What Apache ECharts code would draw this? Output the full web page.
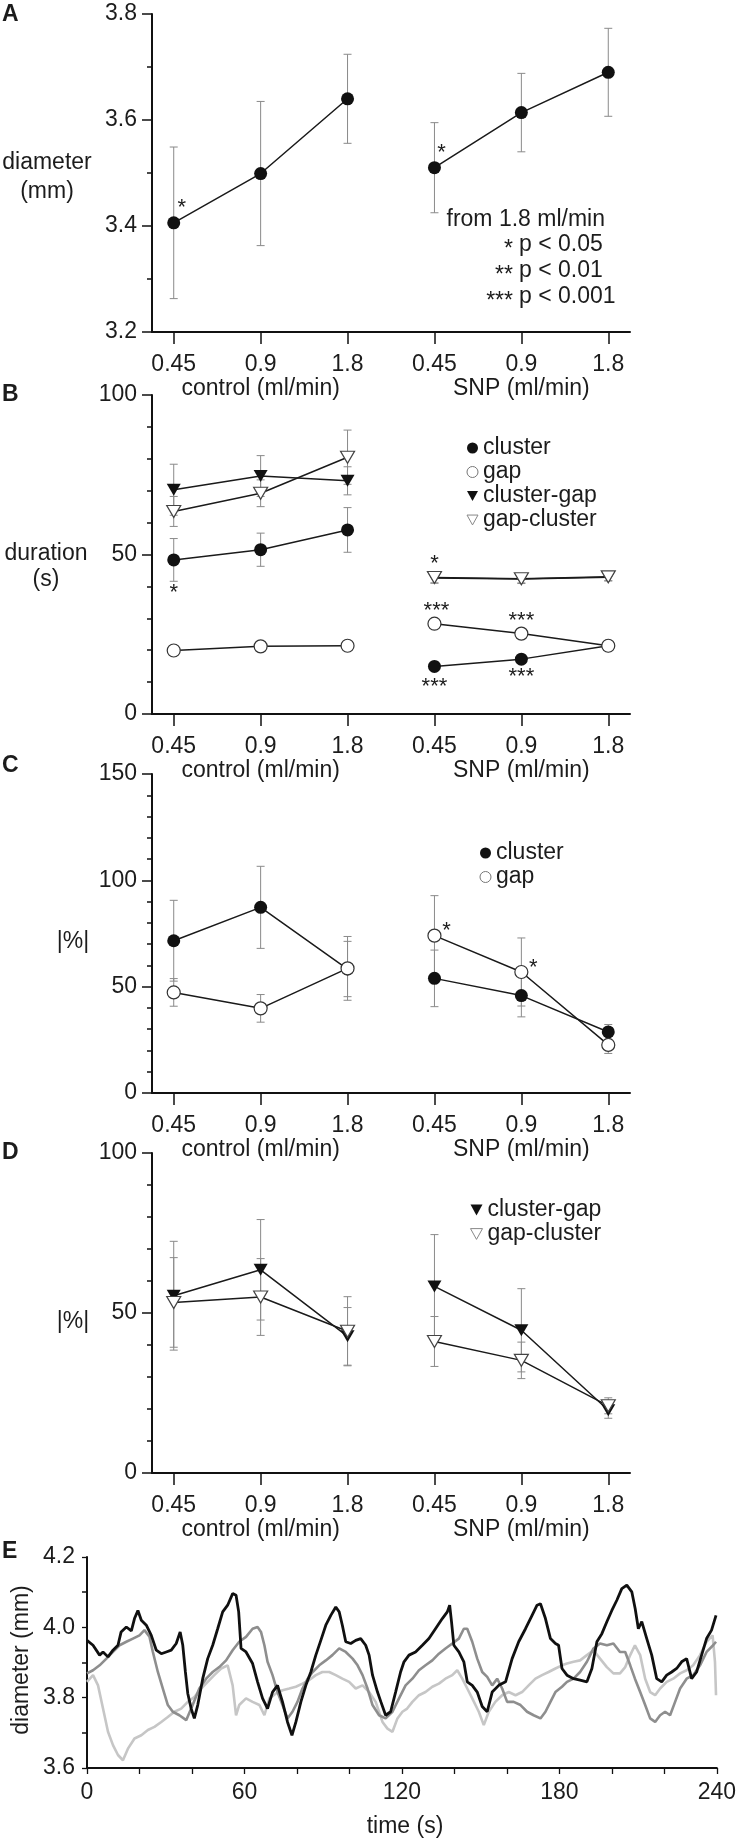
<!DOCTYPE html>
<html><head><meta charset="utf-8">
<script src="https://cdn.jsdelivr.net/npm/echarts@6/dist/echarts.min.js"></script>
<style>html,body{margin:0;padding:0;background:#fff}#c{width:739px;height:1841px}</style>
</head><body><div id="c"></div><script>
const FONT = '"Liberation Sans", Arial, Helvetica, sans-serif';
const TXT = '#1c1c1c';

// ---- shared category axis ----
const flowLabels = ['0.45', '0.9', '1.8', '0.45', '0.9', '1.8'];
const flowPos = [0, 1, 2, 3, 4, 5];
const groupLabels = ['control (ml/min)', 'SNP (ml/min)'];
const groupCenters = [1, 4];

// ---- Panel A: diameter (mm) ----
const aTicks = [3.2, 3.4, 3.6, 3.8];
const aDiameter = [3.406, 3.499, 3.640, 3.510, 3.614, 3.690];
const aDiameterErr = [0.143, 0.136, 0.084, 0.085, 0.074, 0.083];
const aStars = [[0, 3.406, '*'], [3, 3.510, '*']];

// ---- Panel B: duration (s) ----
const bTicks = [0, 50, 100];
const bCluster = [48.3, 51.5, 57.7, 14.9, 17.2, 21.4];
const bClusterErr = [6.7, 5.2, 7.0, 0.6, 0.6, 0.8];
const bGap = [19.9, 21.2, 21.4, 28.3, 25.2, 21.4];
const bGapErr = [1.0, 1.2, 1.5, 1.5, 1.0, 1.0];
const bClusterGap = [70.3, 74.6, 73.1, 42.6, 42.3, 42.9];
const bClusterGapErr = [8.0, 6.4, 4.4, 1.5, 1.2, 1.2];
const bGapCluster = [63.5, 69.2, 80.5, 42.8, 42.4, 43.0];
const bGapClusterErr = [4.7, 4.2, 8.5, 1.8, 1.5, 1.2];
const bStars = [[0, 48.3, '*'], [3, 42.6, '*'], [3, 28.3, '***'], [4, 25.2, '***'], [3, 14.9, '***'], [4, 17.2, '***']];

// ---- Panel C: |%| cluster / gap ----
const cTicks = [0, 50, 100, 150];
const cCluster = [71.6, 87.3, 58.3, 53.9, 45.8, 28.7];
const cClusterErr = [19.0, 19.3, 13.0, 13.3, 10.0, 3.5];
const cGap = [47.3, 39.8, 58.6, 74.0, 56.9, 22.6];
const cGapErr = [6.5, 6.5, 15.0, 18.8, 16.0, 4.0];
const cStars = [[3, 74.0, '*'], [4, 56.9, '*']];

// ---- Panel D: |%| transitions ----
const dTicks = [0, 50, 100];
const dClusterGap = [55.4, 63.5, 42.7, 58.3, 44.6, 19.6];
const dClusterGapErr = [17.0, 15.7, 9.0, 16.2, 13.0, 2.5];
const dGapCluster = [53.3, 55.0, 44.3, 41.1, 35.2, 21.0];
const dGapClusterErr = [14.0, 12.0, 10.8, 7.8, 5.7, 2.5];

// ---- Panel E: diameter traces (time s, diameter mm) ----
const eXTicks = [0, 60, 120, 180, 240];
const eYTicks = [3.6, 3.8, 4.0, 4.2];
const eBlack = [[0,3.963],[2.3,3.949],[4.8,3.921],[6.1,3.93],[8,3.916],[9.9,3.935],[11.8,3.949],[13,3.987],[15,4.001],[16.9,3.99],[18.1,4.025],[19.4,4.048],[20.7,4.02],[22.6,4.006],[24.5,3.977],[26.4,3.935],[28.3,3.925],[30.2,3.93],[32.1,3.935],[34,3.954],[35.5,3.987],[36.5,3.949],[37.5,3.873],[38.4,3.812],[39.7,3.769],[40.9,3.741],[42.2,3.779],[44.1,3.854],[46,3.911],[47.9,3.949],[49.8,3.996],[51.7,4.044],[53.6,4.063],[55.5,4.096],[56.8,4.091],[57.8,4.044],[58.7,3.94],[60.6,3.93],[63.1,3.897],[65,3.845],[66.9,3.798],[68.8,3.769],[70.7,3.816],[72.6,3.835],[74.5,3.788],[76.4,3.731],[78.1,3.693],[79.6,3.731],[81.5,3.788],[83.4,3.835],[85.3,3.873],[87.2,3.921],[89.1,3.963],[91,4.006],[92.9,4.034],[94.8,4.058],[96.1,4.044],[97.3,4.006],[98.6,3.959],[100.5,3.954],[102.4,3.963],[104.3,3.968],[106.2,3.949],[107.5,3.921],[108.8,3.864],[110.7,3.816],[112,3.788],[113.8,3.75],[115.7,3.76],[117.6,3.816],[119.5,3.873],[120.8,3.902],[122.7,3.921],[125.2,3.93],[127.8,3.949],[130.3,3.968],[132.8,3.996],[135.4,4.025],[137.3,4.044],[138.2,4.063],[138.9,4.016],[139.8,3.949],[141.7,3.93],[143.6,3.902],[144.9,3.845],[146.8,3.835],[148.7,3.816],[150.6,3.775],[152.5,3.76],[154.4,3.816],[156.9,3.835],[159.5,3.845],[162,3.911],[164.5,3.959],[167.1,3.996],[169.6,4.034],[171.5,4.063],[172.8,4.067],[174.7,4.025],[176.6,3.968],[178.5,3.954],[179.7,3.949],[181,3.883],[182.9,3.864],[185.4,3.854],[187.9,3.85],[190.5,3.845],[192.4,3.883],[194.3,3.959],[196.2,3.982],[198.1,4.016],[200,4.048],[201.9,4.077],[203.8,4.11],[205.7,4.12],[207.6,4.101],[208.9,4.053],[210.1,3.996],[211.4,4.016],[213.3,3.968],[215.2,3.921],[217.1,3.854],[219,3.845],[220.9,3.864],[222.8,3.873],[224.7,3.883],[226.6,3.902],[228.5,3.911],[230.4,3.854],[232.3,3.873],[234.2,3.921],[236.1,3.968],[238,3.992],[239.7,4.034]];
const eGray = [[0,3.869],[2.3,3.878],[4.8,3.892],[7.4,3.911],[9.9,3.93],[12.4,3.949],[15,3.959],[17.5,3.968],[20,3.977],[21.9,3.992],[23.8,3.973],[25.1,3.93],[27,3.873],[28.9,3.826],[30.8,3.779],[32.7,3.76],[35.2,3.75],[37.8,3.736],[40.3,3.78],[42.8,3.826],[45.4,3.854],[47.9,3.873],[50.4,3.887],[53,3.906],[55.5,3.935],[58,3.959],[60.6,3.973],[63.1,3.996],[65,4.001],[66.3,3.987],[67.6,3.949],[68.8,3.902],[70.7,3.864],[72.6,3.816],[74.5,3.779],[76.4,3.741],[78.3,3.76],[80.2,3.788],[82.1,3.826],[84.1,3.854],[86,3.873],[88.5,3.892],[91,3.906],[93.5,3.921],[96.1,3.94],[98.6,3.93],[101.2,3.911],[103.1,3.892],[105,3.864],[106.9,3.826],[108.8,3.779],[111.3,3.75],[113.8,3.741],[116.4,3.76],[118.9,3.798],[121.4,3.835],[124,3.854],[126.5,3.878],[129,3.892],[131.6,3.906],[134.1,3.925],[136.6,3.94],[139.2,3.954],[141.7,3.968],[143.6,3.996],[144.9,3.996],[146.8,3.959],[148.7,3.911],[150.6,3.873],[152.5,3.859],[154.4,3.835],[156.3,3.854],[158.2,3.826],[160.1,3.788],[162.6,3.788],[165.2,3.779],[167.7,3.76],[170.2,3.75],[172.8,3.741],[174.7,3.76],[176.6,3.788],[178.5,3.816],[181,3.831],[182.9,3.845],[185.4,3.854],[187.9,3.873],[190.5,3.902],[193,3.94],[195.5,3.954],[198.1,3.949],[200.6,3.954],[203.1,3.93],[205.1,3.93],[207,3.892],[208.8,3.854],[210.8,3.816],[212.7,3.779],[214.6,3.741],[216.5,3.731],[218.4,3.75],[220.3,3.76],[222.2,3.75],[224.1,3.788],[226,3.826],[228.5,3.854],[231,3.864],[233.6,3.892],[236.1,3.93],[238.6,3.949],[239.7,3.959]];
const eLight = [[0,3.845],[2.3,3.864],[4.2,3.835],[6.1,3.769],[8,3.703],[9.9,3.665],[11.8,3.637],[13.7,3.622],[15.6,3.655],[18.1,3.684],[20.7,3.693],[23.2,3.708],[25.7,3.717],[28.3,3.731],[30.8,3.745],[33.3,3.76],[35.9,3.769],[38.4,3.788],[40.9,3.802],[43.5,3.826],[46,3.845],[48.5,3.864],[51.1,3.883],[53.6,3.892],[55.5,3.835],[56.8,3.75],[58,3.779],[60.6,3.798],[63.1,3.788],[65.7,3.779],[67.6,3.75],[69.5,3.798],[72,3.812],[74.5,3.821],[77.1,3.826],[79.6,3.831],[82.1,3.84],[84.7,3.85],[87.2,3.864],[89.7,3.873],[92.3,3.873],[94.8,3.864],[97.3,3.854],[99.9,3.845],[102.4,3.826],[105,3.835],[107.5,3.816],[110,3.788],[112.6,3.731],[114.5,3.712],[116.4,3.703],[118.3,3.741],[120.2,3.76],[122,3.769],[124,3.788],[126.5,3.807],[129,3.816],[131.6,3.831],[134.1,3.84],[136.6,3.854],[139.2,3.864],[141.1,3.878],[143,3.854],[144.9,3.826],[146.8,3.798],[149.3,3.76],[151.2,3.722],[153.1,3.76],[155.6,3.788],[158.2,3.807],[160.7,3.816],[163.3,3.807],[165.8,3.816],[168.3,3.835],[170.9,3.854],[173.4,3.864],[175.9,3.873],[178.5,3.883],[181,3.892],[182.9,3.897],[185.4,3.902],[187.9,3.906],[190.5,3.921],[193,3.935],[195.5,3.911],[198.1,3.887],[200.6,3.869],[203.1,3.869],[205.1,3.887],[207,3.921],[208.8,3.949],[210.8,3.921],[212.7,3.854],[214.6,3.816],[216.5,3.807],[218.4,3.826],[220.9,3.845],[223.4,3.854],[226,3.869],[228.5,3.878],[231,3.892],[233.6,3.921],[236.1,3.959],[238.4,3.977],[239.3,3.902],[239.7,3.807]];

// ---------------- helpers ----------------
const TRI = 'path://M0,0L10,0L5,9Z';
const AX = '#111';
const round3 = v => Math.round(v * 1000) / 1000;

function catXAxes(grid) {
  const common = { type: 'value', gridIndex: grid, min: -0.25, max: 5.25, splitLine: { show: false } };
  return [
    Object.assign({}, common, {
      axisLine: { show: true, onZero: false, lineStyle: { color: AX, width: 2 } },
      axisTick: { show: true, customValues: flowPos, length: 12, lineStyle: { color: AX, width: 1.5 } },
      minorTick: { show: false },
      axisLabel: { show: true, customValues: flowPos, formatter: v => flowLabels[Math.round(v)],
        fontSize: 23, color: TXT, fontFamily: FONT, margin: 21 }
    }),
    Object.assign({}, common, {
      position: 'bottom',
      axisLine: { show: false }, axisTick: { show: false },
      axisLabel: { show: true, customValues: groupCenters, formatter: v => groupLabels[groupCenters.indexOf(Math.round(v))],
        fontSize: 23, color: TXT, fontFamily: FONT, margin: 45 }
    })
  ];
}
function yAxisFor(grid, ticks, minorSplit, dec, fs, margin) {
  return {
    type: 'value', gridIndex: grid, min: ticks[0], max: ticks[ticks.length - 1], interval: round3(ticks[1] - ticks[0]),
    axisLine: { show: true, onZero: false, lineStyle: { color: AX, width: 2 } },
    axisTick: { show: true, length: 10, lineStyle: { color: AX, width: 1.5 } },
    minorTick: { show: true, splitNumber: minorSplit, length: 5, lineStyle: { color: AX, width: 1.5 } },
    axisLabel: { formatter: v => v.toFixed(dec), fontSize: fs, color: TXT, fontFamily: FONT, margin: margin },
    splitLine: { show: false }, minorSplitLine: { show: false }
  };
}
function lineSeries(name, vals, xi, yi, symbol, size, itemStyle, z) {
  return [[0, 1, 2], [3, 4, 5]].map(idx => ({
    type: 'line', name: name, xAxisIndex: xi, yAxisIndex: yi,
    data: idx.map(i => [flowPos[i], vals[i]]),
    symbol: symbol, symbolSize: size, showSymbol: true, showAllSymbol: true,
    lineStyle: { color: '#1a1a1a', width: 1.5 },
    itemStyle: itemStyle, z: z, silent: true, animation: false
  }));
}
function errSeries(vals, errs, xi, yi) {
  return {
    type: 'custom', xAxisIndex: xi, yAxisIndex: yi, z: 1, silent: true, animation: false,
    encode: { x: 0, y: [1, 2] },
    data: vals.map((v, i) => [flowPos[i], v - errs[i], v + errs[i]]),
    renderItem: (params, api) => {
      const x = api.value(0);
      const lo = api.coord([x, api.value(1)]);
      const hi = api.coord([x, api.value(2)]);
      const w = 4, st = { stroke: '#8a8a8a', lineWidth: 1 };
      return { type: 'group', children: [
        { type: 'line', shape: { x1: lo[0], y1: lo[1], x2: hi[0], y2: hi[1] }, style: st },
        { type: 'line', shape: { x1: lo[0] - w, y1: lo[1], x2: lo[0] + w, y2: lo[1] }, style: st },
        { type: 'line', shape: { x1: hi[0] - w, y1: hi[1], x2: hi[0] + w, y2: hi[1] }, style: st }
      ] };
    }
  };
}
function starSeries(stars, offsets, xi, yi) {
  return {
    type: 'custom', xAxisIndex: xi, yAxisIndex: yi, z: 5, silent: true, animation: false,
    encode: { x: 0, y: 1 },
    data: stars.map(s => [s[0], s[1]]),
    renderItem: (params, api) => {
      const p = api.coord([api.value(0), api.value(1)]);
      const o = offsets[params.dataIndex];
      return { type: 'text', x: p[0] + o[0], y: p[1] + o[1],
        style: { text: stars[params.dataIndex][2], fill: TXT, fontSize: 22, fontFamily: FONT,
          align: 'center', verticalAlign: 'middle', textAlign: 'center', textVerticalAlign: 'middle' } };
    }
  };
}
function gtext(text, x, y, extra) {
  return Object.assign({ type: 'text', x: x, y: y, silent: true, z: 10,
    style: Object.assign({ text: text, fill: TXT, fontSize: 23, fontFamily: FONT,
      align: 'center', verticalAlign: 'middle', textAlign: 'center', textVerticalAlign: 'middle' }, (extra && extra.style) || {}) },
    (extra && extra.el) || {});
}

const filled = { color: '#111', borderWidth: 0 };
const open = { color: '#fff', borderColor: '#333', borderWidth: 1.2 };
const openTri = { color: '#fff', borderColor: '#444', borderWidth: 1.2 };

// ---------------- option ----------------
const grids = [
  { left: 152, top: 14, width: 478, height: 318 },
  { left: 152, top: 395, width: 478, height: 319 },
  { left: 152, top: 774, width: 478, height: 319 },
  { left: 152, top: 1153, width: 478, height: 320 },
  { left: 87, top: 1557, width: 631, height: 211 }
];

const xAxes = [].concat(catXAxes(0), catXAxes(1), catXAxes(2), catXAxes(3), [{
  type: 'value', gridIndex: 4, min: eXTicks[0], max: eXTicks[eXTicks.length - 1], interval: eXTicks[1] - eXTicks[0],
  axisLine: { show: true, onZero: false, lineStyle: { color: AX, width: 2 } },
  axisTick: { show: true, length: 6, lineStyle: { color: AX, width: 1.3 } },
  minorTick: { show: true, splitNumber: 3, length: 6, lineStyle: { color: AX, width: 1.3 } },
  axisLabel: { fontSize: 23, color: TXT, fontFamily: FONT, margin: 13 },
  splitLine: { show: false }
}]);
const yAxes = [
  yAxisFor(0, aTicks, 2, 1, 23, 15),
  yAxisFor(1, bTicks, 5, 0, 23, 15),
  yAxisFor(2, cTicks, 5, 0, 23, 15),
  yAxisFor(3, dTicks, 5, 0, 23, 15),
  Object.assign(yAxisFor(4, eYTicks, 2, 1, 23, 12), { axisTick: { show: true, length: 5, lineStyle: { color: AX, width: 1.3 } } })
];
yAxes[4].minorTick.length = 5;

const series = [].concat(
  // A
  [errSeries(aDiameter, aDiameterErr, 0, 0)],
  lineSeries('diameter', aDiameter, 0, 0, 'circle', 13, filled, 3),
  [starSeries(aStars, [[8, -15], [7, -15]], 0, 0)],
  // B
  [errSeries(bCluster, bClusterErr, 2, 1), errSeries(bGap, bGapErr, 2, 1),
   errSeries(bClusterGap, bClusterGapErr, 2, 1), errSeries(bGapCluster, bGapClusterErr, 2, 1)],
  lineSeries('cluster-gap', bClusterGap, 2, 1, TRI, [14, 12], filled, 3),
  lineSeries('gap-cluster', bGapCluster, 2, 1, TRI, [14, 12], openTri, 3),
  lineSeries('cluster', bCluster, 2, 1, 'circle', 13, filled, 3),
  lineSeries('gap', bGap, 2, 1, 'circle', 13, open, 4),
  [starSeries(bStars, [[0, 33], [0, -14], [2, -13], [0, -13], [0, 20], [0, 18]], 2, 1)],
  // C
  [errSeries(cCluster, cClusterErr, 4, 2), errSeries(cGap, cGapErr, 4, 2)],
  lineSeries('cluster', cCluster, 4, 2, 'circle', 13, filled, 3),
  lineSeries('gap', cGap, 4, 2, 'circle', 13, open, 4),
  [starSeries(cStars, [[12, -5], [12, -4]], 4, 2)],
  // D
  [errSeries(dClusterGap, dClusterGapErr, 6, 3), errSeries(dGapCluster, dGapClusterErr, 6, 3)],
  lineSeries('cluster-gap', dClusterGap, 6, 3, TRI, [14, 12], filled, 3),
  lineSeries('gap-cluster', dGapCluster, 6, 3, TRI, [14, 12], openTri, 4),
  // E
  [
    { type: 'line', name: 'trace light', xAxisIndex: 8, yAxisIndex: 4, data: eLight, showSymbol: false, symbol: 'none',
      lineStyle: { color: '#c6c6c6', width: 2.6 }, z: 2, silent: true, animation: false },
    { type: 'line', name: 'trace gray', xAxisIndex: 8, yAxisIndex: 4, data: eGray, showSymbol: false, symbol: 'none',
      lineStyle: { color: '#8e8e8e', width: 2.6 }, z: 3, silent: true, animation: false },
    { type: 'line', name: 'trace black', xAxisIndex: 8, yAxisIndex: 4, data: eBlack, showSymbol: false, symbol: 'none',
      lineStyle: { color: '#101010', width: 2.8 }, z: 4, silent: true, animation: false }
  ]
);

function legendAt(left, top, items, iw, ih) {
  return { orient: 'vertical', left: left, top: top, padding: 0, itemWidth: iw, itemHeight: ih, itemGap: 1,
    selectedMode: false, textStyle: { fontSize: 23, lineHeight: 23, color: TXT, fontFamily: FONT }, data: items };
}
const legends = [
  legendAt(466.5, 436.5, [
    { name: 'cluster', icon: 'circle', itemStyle: filled },
    { name: 'gap', icon: 'circle', itemStyle: { color: '#fff', borderColor: '#777', borderWidth: 1 } },
    { name: 'cluster-gap', icon: TRI, itemStyle: filled },
    { name: 'gap-cluster', icon: TRI, itemStyle: { color: '#fff', borderColor: '#888', borderWidth: 1 } }
  ], 11, 11),
  legendAt(479.5, 841.5, [
    { name: 'cluster', icon: 'circle', itemStyle: filled },
    { name: 'gap', icon: 'circle', itemStyle: { color: '#fff', borderColor: '#777', borderWidth: 1 } }
  ], 11, 11),
  legendAt(470, 1198.5, [
    { name: 'cluster-gap', icon: TRI, itemStyle: filled },
    { name: 'gap-cluster', icon: TRI, itemStyle: { color: '#fff', borderColor: '#888', borderWidth: 1 } }
  ], 12, 11)
];

const bold = { style: { fontWeight: 'bold', fontSize: 23, align: 'left', textAlign: 'left' } };
const graphics = [
  gtext('A', 2, 15, bold), gtext('B', 2, 395, bold), gtext('C', 2, 766, bold), gtext('D', 2, 1153, bold), gtext('E', 2, 1552, bold),
  gtext('diameter', 47, 163), gtext('(mm)', 47, 192),
  gtext('duration', 46, 554), gtext('(s)', 46, 580),
  gtext('|%|', 73, 942), gtext('|%|', 73, 1322),
  gtext('from 1.8 ml/min', 605, 220, { style: { align: 'right', textAlign: 'right' } }),
  gtext('*', 513, 250, { style: { align: 'right', textAlign: 'right' } }),
  gtext('p < 0.05', 519, 245, { style: { align: 'left', textAlign: 'left' } }),
  gtext('**', 513, 276, { style: { align: 'right', textAlign: 'right' } }),
  gtext('p < 0.01', 519, 271, { style: { align: 'left', textAlign: 'left' } }),
  gtext('***', 513, 302, { style: { align: 'right', textAlign: 'right' } }),
  gtext('p < 0.001', 519, 297, { style: { align: 'left', textAlign: 'left' } }),
  gtext('diameter (mm)', 22, 1660, { el: { rotation: Math.PI / 2 } }),
  gtext('time (s)', 405, 1827)
];

const chart = echarts.init(document.getElementById('c'), null, { renderer: 'canvas', width: 739, height: 1841 });
chart.setOption({
  animation: false,
  backgroundColor: '#fff',
  textStyle: { fontFamily: FONT },
  grid: grids,
  xAxis: xAxes,
  yAxis: yAxes,
  legend: legends,
  series: series,
  graphic: graphics
});
</script></body></html>
